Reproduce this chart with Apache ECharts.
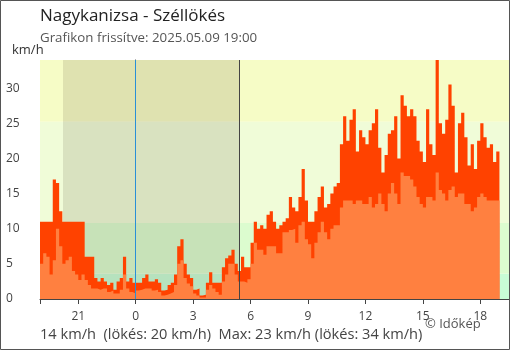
<!DOCTYPE html>
<html><head><meta charset="utf-8">
<script src="https://cdn.jsdelivr.net/npm/echarts@6/dist/echarts.min.js"></script>
<style>html,body{margin:0;padding:0;background:#fff}#c{width:510px;height:350px}</style>
</head><body><div id="c"></div>
<script>
// time axis: hours relative to midnight (negative = previous evening)
const startHour = -5;          // 19:00 previous day
const stepHours = 1 / 6;       // 10-minute samples

const meanKmh = [
  5, 6.5, 6, 3.5, 5.5, 10, 7.5, 5, 5.5, 6,
  4, 3.5, 2.7, 3.5, 2.7, 2, 1.5, 1.5, 1.3, 1.5,
  1.5, 1, 1.2, 0.8, 0.8, 1.3, 3.5, 1.5, 1, 0.8,
  1.2, 1.3, 1.5, 1.5, 1.5, 1.2, 1.3, 1.0, 0.5, 0.6,
  0.8, 1.0, 2, 5, 5.5, 3, 2.2, 1.8, 0.8, 0.5,
  0.2, 0.2, 1.3, 2, 1.5, 1, 0.6, 2.5, 3.5, 5,
  5, 3.5, 2.5, 2.5, 2.3, 2.8, 5, 8, 7, 7,
  6.3, 7.5, 7.5, 7.5, 6.5, 6.5, 9.5, 9.5, 9.8, 10,
  8, 10.5, 11, 8.5, 7.8, 5.8, 8, 9.5, 11, 9.5,
  8.5, 10, 10.5, 10.5, 13, 14, 14, 14, 13.5, 14,
  14, 13.5, 13.5, 14.5, 13, 13.5, 15, 13.5, 12.5, 15,
  16.5, 15, 13.5, 18, 17.5, 17.5, 17, 16, 14.5, 13.5,
  13, 14.5, 14.5, 14, 18, 15.5, 15, 14, 15.5, 16,
  14.5, 15, 15, 13.5, 13.5, 12.5, 13, 14.5, 15, 14.5,
  14, 14, 14, 14
];
const gustKmh = [
  11, 11, 11, 11, 17, 16.5, 12.5, 11, 11, 11,
  11, 11, 11, 11, 6, 6, 6, 3, 2.5, 3,
  2.5, 2, 2.3, 1.3, 2.5, 3, 6, 2.5, 3, 2.3,
  2.3, 2.3, 3, 3.5, 2.5, 2.5, 2.8, 2.3, 1.2, 1.3,
  2, 2.3, 3.5, 7.5, 8.5, 5, 3.5, 3, 1.3, 1.5,
  0.5, 0.6, 2.3, 3.8, 2.3, 2.3, 2.3, 4.5, 5.8, 6.2,
  7, 5, 4, 6, 4.5, 4.5, 8, 11, 10, 10.5,
  10, 12, 12.5, 11, 10, 10.5, 11, 11.5, 14.5, 13,
  12.5, 14.5, 18.5, 14, 11, 11, 12.5, 14.5, 16, 13,
  13.5, 15, 16, 16.5, 22, 26, 22.5, 25.5, 27, 21,
  24, 23, 22, 24, 25, 27, 21.5, 18, 20.5, 23.5,
  24, 26, 20, 29, 27.5, 26, 27, 26, 22.5, 21,
  19.5, 27, 22, 20.5, 34, 25, 23.5, 25.5, 30.5, 27.5,
  18, 25, 26.5, 23, 19, 22, 18.5, 22.5, 25, 23,
  21.5, 22, 19.5, 21
];

const bandEdges = [0, 3.6, 10.8, 25.2, 34];
const bandColors = ['#c8fcd6', '#dcfccf', '#f0fcd8', '#f6fcc6'];
const sunsetHour = -3.8, sunriseHour = 5.4, midnightHour = 0;
const xTickHours = [-5, -3, 0, 3, 6, 9, 12, 15, 18];
const xLabelHours = [-3, 0, 3, 6, 9, 12, 15, 18];
const yTickValues = [0, 5, 10, 15, 20, 25, 30];

const titleText = 'Nagykanizsa - Széllökés';
const subtitleText = 'Grafikon frissítve: 2025.05.09 19:00';
const unitText = 'km/h';
const summaryText = '14 km/h  (lökés: 20 km/h)  Max: 23 km/h (lökés: 34 km/h)';
const copyrightText = '© Időkép';

function toPairs(arr) {
  const out = arr.map((v, i) => [startHour + i * stepHours, v]);
  out.push([startHour + arr.length * stepHours, arr[arr.length - 1]]);
  return out;
}

const FONT = "'Open Sans', 'Noto Sans', sans-serif";
const chart = echarts.init(document.getElementById('c'), null, {renderer: 'canvas'});

const bandAreas = bandColors.map((c, i) => [
  {yAxis: bandEdges[i], itemStyle: {color: c}},
  {yAxis: bandEdges[i + 1]}
]);

chart.setOption({
  animation: false,
  backgroundColor: '#fff',
  textStyle: {fontFamily: FONT},
  grid: {left: 40, top: 60, right: 1, bottom: 51},
  xAxis: [{
    type: 'value', min: -5, max: 19.5,
    axisLine: {show: true, lineStyle: {color: '#444', width: 1}},
    axisTick: {show: true, customValues: xTickHours, length: 5, lineStyle: {color: '#444'}},
    axisLabel: {customValues: xLabelHours, color: '#444', fontSize: 12, fontFamily: FONT, margin: 12,
      formatter: v => String(((v % 24) + 24) % 24)},
    splitLine: {show: false}
  }, {
    type: 'value', min: -5, max: 19.5,
    axisLine: {show: false},
    axisTick: {show: true, customValues: [midnightHour], length: 6, lineStyle: {color: '#2a8fd6'}},
    axisLabel: {show: false},
    splitLine: {show: false}
  }],
  yAxis: [{
    type: 'value', min: 0, max: 34,
    axisLine: {show: true, lineStyle: {color: '#444'}},
    axisTick: {show: true, customValues: yTickValues, length: 6, lineStyle: {color: '#444'}},
    axisLabel: {customValues: yTickValues, color: '#444', fontSize: 12, fontFamily: FONT, align: 'left', margin: 34},
    splitLine: {show: false}
  }, {
    type: 'value', min: 0, max: 34, position: 'left',
    axisLine: {show: false},
    axisTick: {show: true, inside: true, customValues: yTickValues, length: 7, lineStyle: {color: '#444'}},
    axisLabel: {show: false},
    splitLine: {show: false}
  }],
  series: [{
    name: 'bands', type: 'line', z: 1, silent: true,
    data: toPairs(meanKmh), showSymbol: false, lineStyle: {opacity: 0},
    markArea: {silent: true, data: bandAreas}
  }, {
    name: 'night', type: 'line', z: 1, silent: true,
    data: toPairs(meanKmh), showSymbol: false, lineStyle: {opacity: 0},
    markArea: {silent: true, itemStyle: {color: 'rgba(40,20,0,0.11)'},
      data: [[{xAxis: sunsetHour}, {xAxis: sunriseHour}]]}
  }, {
    name: 'gust', type: 'line', z: 3, step: 'end', silent: true,
    data: toPairs(gustKmh), showSymbol: false,
    lineStyle: {width: 0, color: '#ff4200'},
    areaStyle: {color: '#ff4200', opacity: 1}
  }, {
    name: 'mean', type: 'line', z: 4, step: 'end', silent: true,
    data: toPairs(meanKmh), showSymbol: false,
    lineStyle: {width: 0, color: '#ff8040'},
    areaStyle: {color: '#ff8040', opacity: 1},
    markLine: {silent: true, symbol: 'none', label: {show: false},
      data: [
        {xAxis: midnightHour, lineStyle: {color: '#2a8fd6', width: 1, type: 'solid'}},
        {xAxis: sunriseHour, lineStyle: {color: '#444', width: 1, type: 'solid'}}
      ]}
  }],
  graphic: [
    {type: 'rect', z: 100, silent: true, shape: {x: 0.5, y: 0.5, width: 509, height: 349},
      style: {fill: 'none', stroke: '#555', lineWidth: 1}},
    {type: 'text', left: 40, top: 8, silent: true,
      style: {text: titleText, font: "17px " + FONT, fill: '#222'}},
    {type: 'text', left: 40, top: 32, silent: true,
      style: {text: subtitleText, font: "13.3px " + FONT, fill: '#555'}},
    {type: 'text', left: 12, top: 44, silent: true,
      style: {text: unitText, font: "13px " + FONT, fill: '#333'}},
    {type: 'text', left: 40, top: 327, silent: true,
      style: {text: summaryText, font: "14.6px " + FONT, fill: '#444'}},
    {type: 'text', left: 425, top: 318, silent: true,
      style: {text: copyrightText, font: "13px " + FONT, fill: '#555'}}
  ]
});
</script></body></html>
